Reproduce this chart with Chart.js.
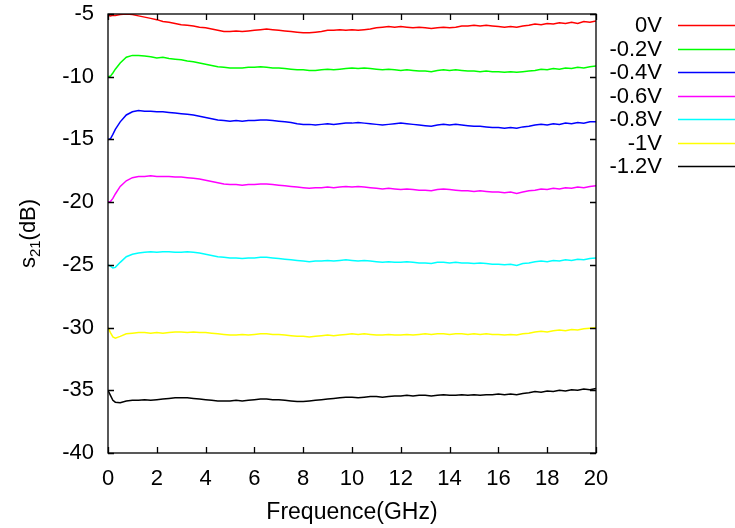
<!DOCTYPE html>
<html>
<head>
<meta charset="utf-8">
<script src="https://cdn.jsdelivr.net/npm/chart.js@4.4.1/dist/chart.umd.min.js"></script>
<style>
html,body{margin:0;padding:0;background:#fff;}
canvas{display:block;}
</style>
</head>
<body>
<canvas id="c" width="735" height="528"></canvas>
<script>
const freq = [0,0.1,0.2,0.3,0.5,0.75,
1,1.25,1.5,1.75, 2,2.25,2.5,2.75, 3,3.25,3.5,3.75, 4,4.25,4.5,4.75,
5,5.25,5.5,5.75, 6,6.25,6.5,6.75, 7,7.25,7.5,7.75, 8,8.25,8.5,8.75,
9,9.25,9.5,9.75, 10,10.25,10.5,10.75, 11,11.25,11.5,11.75, 12,12.25,12.5,12.75,
13,13.25,13.5,13.75, 14,14.25,14.5,14.75, 15,15.25,15.5,15.75, 16,16.25,16.5,16.75,
17,17.25,17.5,17.75, 18,18.25,18.5,18.75, 19,19.25,19.5,19.75, 20];

const v0 = [-5.1,-5.15,-5.1,-5.12,-5.05,-5.0,
-5.05,-5.15,-5.25,-5.35, -5.45,-5.6,-5.65,-5.75, -5.85,-5.9,-5.95,-6.05, -6.1,-6.2,-6.3,-6.4,
-6.4,-6.35,-6.4,-6.35, -6.3,-6.25,-6.2,-6.25, -6.3,-6.35,-6.4,-6.45, -6.5,-6.5,-6.45,-6.4,
-6.3,-6.3,-6.25,-6.3, -6.25,-6.3,-6.25,-6.2, -6.1,-6.05,-6.0,-6.05, -6.0,-6.05,-6.1,-6.05,
-6.1,-6.15,-6.1,-6.05, -6.1,-6.05,-5.95,-5.95, -5.9,-5.95,-5.9,-5.95, -6.0,-6.05,-6.0,-6.05,
-5.95,-5.9,-5.8,-5.85, -5.75,-5.8,-5.7,-5.75, -5.65,-5.75,-5.6,-5.65, -5.55];

const vm02 = [-10.0,-9.95,-9.7,-9.4,-8.9,-8.45,
-8.3,-8.3,-8.35,-8.4, -8.5,-8.45,-8.55,-8.6, -8.65,-8.75,-8.8,-8.9, -9.0,-9.1,-9.2,-9.25,
-9.3,-9.3,-9.3,-9.25, -9.25,-9.2,-9.25,-9.3, -9.3,-9.35,-9.4,-9.45, -9.45,-9.5,-9.5,-9.45,
-9.4,-9.45,-9.4,-9.35, -9.3,-9.35,-9.3,-9.35, -9.4,-9.45,-9.4,-9.45, -9.5,-9.45,-9.5,-9.55,
-9.55,-9.6,-9.5,-9.45, -9.5,-9.45,-9.5,-9.55, -9.55,-9.6,-9.55,-9.6, -9.6,-9.65,-9.6,-9.65,
-9.6,-9.55,-9.5,-9.4, -9.45,-9.35,-9.4,-9.3, -9.35,-9.25,-9.3,-9.2, -9.15];

const vm04 = [-15.0,-14.95,-14.6,-14.2,-13.6,-13.05,
-12.8,-12.7,-12.75,-12.75, -12.8,-12.8,-12.85,-12.9, -12.95,-13.0,-13.05,-13.15, -13.25,-13.35,-13.45,-13.5,
-13.55,-13.5,-13.55,-13.5, -13.5,-13.45,-13.45,-13.5, -13.55,-13.6,-13.65,-13.75, -13.8,-13.8,-13.85,-13.8,
-13.75,-13.8,-13.75,-13.7, -13.7,-13.65,-13.7,-13.75, -13.8,-13.85,-13.8,-13.75, -13.7,-13.75,-13.8,-13.85,
-13.9,-13.95,-13.85,-13.8, -13.85,-13.8,-13.85,-13.9, -13.95,-13.95,-14.0,-14.05, -14.05,-14.1,-14.05,-14.1,
-14.0,-13.95,-13.85,-13.8, -13.85,-13.75,-13.8,-13.7, -13.75,-13.65,-13.7,-13.6, -13.6];

const vm06 = [-20.0,-19.95,-19.7,-19.35,-18.75,-18.3,
-18.05,-17.95,-17.95,-17.9, -17.95,-17.95,-17.95,-18.0, -18.0,-18.05,-18.1,-18.15, -18.25,-18.35,-18.45,-18.55,
-18.6,-18.6,-18.65,-18.6, -18.6,-18.55,-18.55,-18.6, -18.65,-18.7,-18.75,-18.8, -18.85,-18.9,-18.85,-18.85,
-18.8,-18.85,-18.8,-18.75, -18.8,-18.75,-18.8,-18.85, -18.9,-18.95,-18.9,-18.95, -19.0,-18.95,-19.0,-19.05,
-19.05,-19.1,-19.0,-18.95, -19.0,-19.05,-19.1,-19.1, -19.15,-19.1,-19.15,-19.2, -19.2,-19.25,-19.2,-19.3,
-19.2,-19.1,-19.05,-18.95, -19.0,-18.9,-18.95,-18.85, -18.9,-18.8,-18.85,-18.75, -18.7];

const vm08 = [-25.0,-25.1,-25.25,-25.2,-24.8,-24.35,
-24.15,-24.05,-24.0,-23.95, -24.0,-23.95,-23.95,-24.0, -24.0,-23.95,-24.0,-24.05, -24.15,-24.25,-24.35,-24.4,
-24.45,-24.45,-24.5,-24.45, -24.45,-24.4,-24.4,-24.45, -24.5,-24.55,-24.6,-24.65, -24.7,-24.75,-24.7,-24.7,
-24.65,-24.7,-24.65,-24.6, -24.65,-24.7,-24.65,-24.7, -24.75,-24.8,-24.75,-24.8, -24.8,-24.75,-24.8,-24.85,
-24.85,-24.9,-24.8,-24.8, -24.85,-24.8,-24.85,-24.85, -24.9,-24.85,-24.9,-24.95, -24.95,-25.0,-24.95,-25.05,
-24.9,-24.85,-24.75,-24.7, -24.75,-24.65,-24.7,-24.6, -24.65,-24.55,-24.6,-24.5, -24.45];

const vm10 = [-30.0,-30.4,-30.75,-30.85,-30.7,-30.5,
-30.45,-30.4,-30.4,-30.45, -30.4,-30.45,-30.4,-30.35, -30.35,-30.4,-30.35,-30.4, -30.4,-30.45,-30.5,-30.55,
-30.6,-30.6,-30.55,-30.6, -30.55,-30.5,-30.5,-30.55, -30.55,-30.6,-30.65,-30.7, -30.7,-30.75,-30.7,-30.65,
-30.6,-30.65,-30.6,-30.55, -30.5,-30.55,-30.5,-30.55, -30.6,-30.6,-30.55,-30.6, -30.6,-30.55,-30.6,-30.55,
-30.5,-30.55,-30.5,-30.5, -30.55,-30.5,-30.5,-30.55, -30.5,-30.55,-30.5,-30.55, -30.55,-30.6,-30.55,-30.6,
-30.5,-30.45,-30.35,-30.3, -30.35,-30.25,-30.2,-30.25, -30.15,-30.2,-30.1,-30.05, -30.0];

const vm12 = [-35.0,-35.4,-35.8,-35.95,-36.0,-35.85,
-35.8,-35.8,-35.75,-35.8, -35.75,-35.7,-35.65,-35.6, -35.6,-35.6,-35.65,-35.7, -35.75,-35.8,-35.85,-35.85,
-35.85,-35.8,-35.85,-35.8, -35.75,-35.7,-35.7,-35.75, -35.75,-35.8,-35.85,-35.9, -35.9,-35.85,-35.8,-35.75,
-35.7,-35.65,-35.6,-35.55, -35.55,-35.6,-35.55,-35.5, -35.5,-35.55,-35.5,-35.45, -35.45,-35.4,-35.45,-35.4,
-35.4,-35.45,-35.4,-35.35, -35.4,-35.4,-35.35,-35.4, -35.35,-35.4,-35.35,-35.35, -35.3,-35.35,-35.3,-35.35,
-35.25,-35.2,-35.1,-35.15, -35.05,-35.1,-35.0,-35.05, -34.95,-35.0,-34.9,-34.95, -34.85];

const seriesNames = ['0V','-0.2V','-0.4V','-0.6V','-0.8V','-1V','-1.2V'];
const seriesValues = [v0, vm02, vm04, vm06, vm08, vm10, vm12];
const seriesColors = ['#ff0000','#00ff00','#0000ff','#ff00ff','#00ffff','#ffff00','#000000'];
const xTicks = [0,2,4,6,8,10,12,14,16,18,20];
const yTicks = [-5,-10,-15,-20,-25,-30,-35,-40];

const FONT = '"Liberation Sans", Arial, sans-serif';

const framePlugin = {
  id: 'frame',
  afterDraw(chart) {
    const ctx = chart.ctx, a = chart.chartArea;
    const xs = chart.scales.x, ys = chart.scales.y;
    ctx.save();
    ctx.strokeStyle = '#000';
    ctx.lineWidth = 1.3;
    ctx.beginPath();
    const L = 6;
    xTicks.forEach(t => {
      const px = Math.round(xs.getPixelForValue(t)) + 0.5;
      ctx.moveTo(px, a.bottom); ctx.lineTo(px, a.bottom - L);
      ctx.moveTo(px, a.top); ctx.lineTo(px, a.top + L);
    });
    yTicks.forEach(t => {
      const py = Math.round(ys.getPixelForValue(t)) + 0.5;
      ctx.moveTo(a.left, py); ctx.lineTo(a.left + L, py);
      ctx.moveTo(a.right, py); ctx.lineTo(a.right - L, py);
    });
    ctx.stroke();
    ctx.strokeRect(a.left, a.top, a.right - a.left, a.bottom - a.top);

    // y title with subscript
    ctx.fillStyle = '#000';
    ctx.translate(35, (a.top + a.bottom) / 2);
    ctx.rotate(-Math.PI / 2);
    const big = '22px ' + FONT, small = '15px ' + FONT;
    ctx.font = big; const w1 = ctx.measureText('s').width;
    const w3 = ctx.measureText('(dB)').width;
    ctx.font = small; const w2 = ctx.measureText('21').width;
    const tot = w1 + w2 + w3;
    let x0 = -tot / 2;
    ctx.textBaseline = 'alphabetic';
    ctx.textAlign = 'left';
    ctx.font = big; ctx.fillText('s', x0, 0);
    ctx.font = small; ctx.fillText('21', x0 + w1, 5);
    ctx.font = big; ctx.fillText('(dB)', x0 + w1 + w2, 0);
    ctx.restore();

    // legend
    ctx.save();
    ctx.font = '22px ' + FONT;
    ctx.textAlign = 'right';
    ctx.textBaseline = 'middle';
    chart.data.datasets.forEach((ds, i) => {
      const y = 25 + i * 23.5;
      ctx.fillStyle = '#000';
      ctx.fillText(ds.label, 662, y + 1);
      ctx.strokeStyle = ds.borderColor;
      ctx.lineWidth = 1.5;
      ctx.beginPath();
      ctx.moveTo(678, Math.round(y) + 0.5);
      ctx.lineTo(735, Math.round(y) + 0.5);
      ctx.stroke();
    });
    ctx.restore();
  }
};

const datasets = seriesNames.map((name, i) => ({
  label: name,
  data: freq.map((f, j) => ({x: f, y: seriesValues[i][j]})),
  borderColor: seriesColors[i],
  backgroundColor: seriesColors[i],
  borderWidth: 1.5,
  pointRadius: 0,
  tension: 0,
  fill: false
}));

new Chart(document.getElementById('c'), {
  type: 'line',
  data: { datasets },
  options: {
    responsive: false,
    animation: false,
    devicePixelRatio: 1,
    layout: { padding: { left: 0, top: 14, right: 139, bottom: 0 } },
    plugins: { legend: { display: false }, tooltip: { enabled: false } },
    scales: {
      x: {
        type: 'linear', min: 0, max: 20,
        afterBuildTicks: s => { s.ticks = xTicks.map(v => ({value: v})); },
        afterFit: s => { s.height = 75; s.paddingLeft = 0; s.paddingRight = 0; },
        grid: { display: false, drawTicks: false },
        border: { display: false },
        ticks: { color: '#000', font: { family: FONT, size: 22 }, padding: 13, maxRotation: 0, autoSkip: false },
        title: { display: true, text: 'Frequence(GHz)', color: '#000', font: { family: FONT, size: 23 }, padding: { top: 0, bottom: 2 } }
      },
      y: {
        type: 'linear', min: -40, max: -5,
        afterBuildTicks: s => { s.ticks = yTicks.map(v => ({value: v})); },
        afterFit: s => { s.width = 108; s.paddingTop = 0; s.paddingBottom = 0; },
        grid: { display: false, drawTicks: false },
        border: { display: false },
        ticks: { color: '#000', font: { family: FONT, size: 22 }, padding: 14, autoSkip: false }
      }
    }
  },
  plugins: [framePlugin]
});
</script>
</body>
</html>
